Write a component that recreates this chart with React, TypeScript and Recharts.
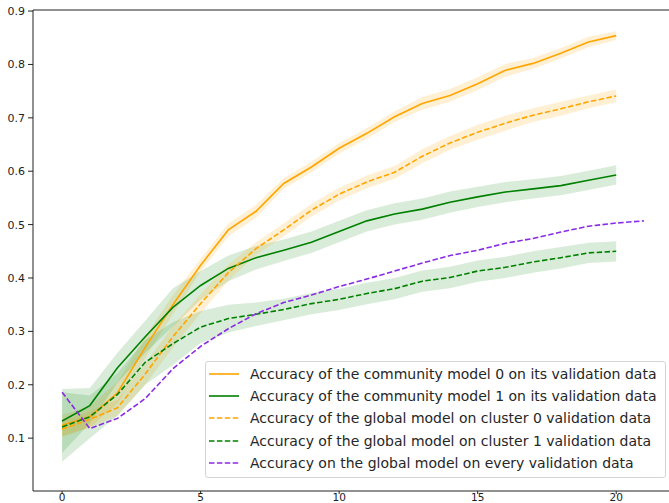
import React from 'react';
import {
  ComposedChart,
  Line,
  Area,
  XAxis,
  YAxis,
  Legend,
  ReferenceLine,
} from 'recharts';

// rounds 0..20 (purple runs one more round)
const rounds = [0, 1, 2, 3, 4, 5, 6, 7, 8, 9, 10, 11, 12, 13, 14, 15, 16, 17, 18, 19, 20, 21];

const community0 = [0.124, 0.14, 0.185, 0.27, 0.35, 0.424, 0.49, 0.525, 0.577, 0.608, 0.643, 0.671, 0.702, 0.727, 0.742, 0.764, 0.789, 0.802, 0.821, 0.842, 0.854];
const community0Err = [0.02, 0.02, 0.02, 0.02, 0.018, 0.012, 0.012, 0.012, 0.01, 0.01, 0.01, 0.01, 0.01, 0.012, 0.012, 0.012, 0.012, 0.01, 0.01, 0.01, 0.008];

const community1 = [0.132, 0.161, 0.232, 0.29, 0.345, 0.386, 0.418, 0.438, 0.452, 0.467, 0.487, 0.507, 0.52, 0.529, 0.542, 0.552, 0.561, 0.567, 0.573, 0.583, 0.593];
const community1Err = [0.06, 0.033, 0.028, 0.03, 0.036, 0.027, 0.024, 0.022, 0.02, 0.02, 0.02, 0.02, 0.02, 0.02, 0.02, 0.019, 0.019, 0.018, 0.018, 0.018, 0.018];

const globalCluster0 = [0.117, 0.135, 0.157, 0.22, 0.29, 0.352, 0.41, 0.455, 0.49, 0.527, 0.557, 0.58, 0.598, 0.628, 0.653, 0.673, 0.69, 0.705, 0.717, 0.73, 0.741];
const globalCluster0Err = [0.015, 0.015, 0.015, 0.02, 0.02, 0.018, 0.015, 0.012, 0.012, 0.012, 0.012, 0.012, 0.012, 0.013, 0.013, 0.014, 0.014, 0.013, 0.013, 0.012, 0.012];

const globalCluster1 = [0.121, 0.14, 0.182, 0.242, 0.277, 0.308, 0.324, 0.332, 0.341, 0.352, 0.36, 0.371, 0.38, 0.394, 0.401, 0.413, 0.42, 0.43, 0.438, 0.447, 0.45];
const globalCluster1Err = [0.065, 0.04, 0.04, 0.042, 0.04, 0.03, 0.026, 0.022, 0.02, 0.02, 0.02, 0.02, 0.02, 0.02, 0.02, 0.02, 0.02, 0.02, 0.02, 0.019, 0.019];

const globalEvery = [0.186, 0.118, 0.137, 0.174, 0.23, 0.272, 0.305, 0.333, 0.354, 0.368, 0.384, 0.398, 0.413, 0.428, 0.442, 0.452, 0.465, 0.474, 0.486, 0.497, 0.503, 0.507];

const yTicks = [0.1, 0.2, 0.3, 0.4, 0.5, 0.6, 0.7, 0.8, 0.9];
const xTicks = [0, 5, 10, 15, 20];

const ORANGE = '#FFA500';
const GREEN = '#008000';
const PURPLE = '#8A2BE2';
const DASH = '5.5 2.4';
const FONT = 'DejaVu Sans, sans-serif';

const series = [
  { key: 'c0', label: 'Accuracy of the community model 0 on its validation data', color: ORANGE, dash: undefined },
  { key: 'c1', label: 'Accuracy of the community model 1 on its validation data', color: GREEN, dash: undefined },
  { key: 'g0', label: 'Accuracy of the global model on cluster 0 validation data', color: ORANGE, dash: DASH },
  { key: 'g1', label: 'Accuracy of the global model on cluster 1 validation data', color: GREEN, dash: DASH },
  { key: 'ge', label: 'Accuracy on the global model on every validation data', color: PURPLE, dash: DASH },
];

const band = (vals: number[], errs: number[], i: number) =>
  i < vals.length ? [vals[i] - errs[i], vals[i] + errs[i]] : undefined;

const rows = rounds.map((r, i) => ({
  round: r,
  c0: community0[i],
  c0Band: band(community0, community0Err, i),
  c1: community1[i],
  c1Band: band(community1, community1Err, i),
  g0: globalCluster0[i],
  g0Band: band(globalCluster0, globalCluster0Err, i),
  g1: globalCluster1[i],
  g1Band: band(globalCluster1, globalCluster1Err, i),
  ge: globalEvery[i],
}));

function LegendBox() {
  return (
    <div
      style={{
        background: 'rgba(255,255,255,0.8)',
        border: '1px solid #d4d4d4',
        borderRadius: 3,
        padding: '1px 0 3px 0',
        boxSizing: 'border-box',
        width: 461,
        fontFamily: FONT,
        fontSize: 14,
        color: '#262626',
      }}
    >
      {series.map((s) => (
        <div key={s.key} style={{ display: 'flex', alignItems: 'center', height: 22.2 }}>
          <svg width={44} height={10} style={{ flex: 'none' }}>
            <line x1={3} x2={33} y1={5} y2={5} stroke={s.color} strokeWidth={1.6} strokeDasharray={s.dash} />
          </svg>
          <span style={{ whiteSpace: 'nowrap' }}>{s.label}</span>
        </div>
      ))}
    </div>
  );
}

export default function App() {
  const tick = { fontSize: 11, fill: '#222', fontFamily: FONT };
  const xTick = { fontSize: 10.5, fill: '#222', fontFamily: FONT };
  const axisLine = { stroke: '#222', strokeWidth: 1 };
  return (
    <div style={{ position: 'absolute', left: 0, top: 0, width: 669, height: 503, overflow: 'hidden', background: '#fff' }}>
      <ComposedChart width={700} height={503} data={rows} margin={{ top: 10, right: 27, left: 0, bottom: 0 }}>
        <XAxis
          dataKey="round"
          type="number"
          domain={[-1.05, 22.05]}
          ticks={xTicks}
          allowDataOverflow
          tick={xTick}
          tickSize={3}
          tickMargin={0}
          height={12}
          axisLine={axisLine}
          tickLine={axisLine}
        />
        <YAxis
          type="number"
          domain={[0.001, 0.902]}
          ticks={yTicks}
          allowDataOverflow
          tick={tick}
          tickSize={5}
          tickMargin={3}
          width={33}
          axisLine={axisLine}
          tickLine={axisLine}
        />
        <ReferenceLine y={0.902} stroke="#222" strokeWidth={1} />

        <Line dataKey="c0" stroke={ORANGE} strokeWidth={1.6} dot={false} isAnimationActive={false} legendType="none" />
        <Area dataKey="c0Band" stroke="none" fill={ORANGE} fillOpacity={0.17} isAnimationActive={false} legendType="none" />
        <Line dataKey="c1" stroke={GREEN} strokeWidth={1.6} dot={false} isAnimationActive={false} legendType="none" />
        <Area dataKey="c1Band" stroke="none" fill={GREEN} fillOpacity={0.15} isAnimationActive={false} legendType="none" />
        <Line dataKey="g0" stroke={ORANGE} strokeWidth={1.6} strokeDasharray={DASH} dot={false} isAnimationActive={false} legendType="none" />
        <Area dataKey="g0Band" stroke="none" fill={ORANGE} fillOpacity={0.17} isAnimationActive={false} legendType="none" />
        <Line dataKey="g1" stroke={GREEN} strokeWidth={1.6} strokeDasharray={DASH} dot={false} isAnimationActive={false} legendType="none" />
        <Area dataKey="g1Band" stroke="none" fill={GREEN} fillOpacity={0.15} isAnimationActive={false} legendType="none" />
        <Line dataKey="ge" stroke={PURPLE} strokeWidth={1.6} strokeDasharray={DASH} dot={false} isAnimationActive={false} legendType="none" />

        <Legend
          layout="vertical"
          align="center"
          verticalAlign="middle"
          content={() => <LegendBox />}
          wrapperStyle={{ left: 205, top: 361, width: 461 }}
        />
      </ComposedChart>
    </div>
  );
}
